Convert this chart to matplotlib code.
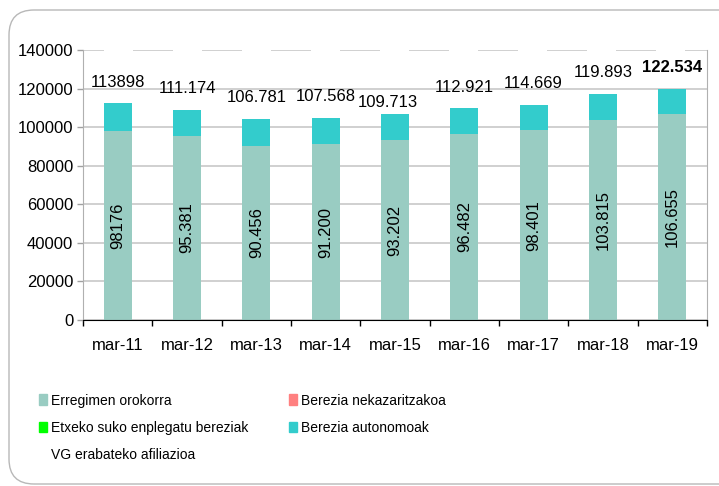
import matplotlib.pyplot as plt
from matplotlib.patches import FancyBboxPatch, Patch

plt.rcParams.update({'font.family': ['Liberation Sans', 'DejaVu Sans'], 'font.size': 12})

years = ['mar-11', 'mar-12', 'mar-13', 'mar-14', 'mar-15', 'mar-16', 'mar-17', 'mar-18', 'mar-19']
erregimen = [98176, 95381, 90456, 91200, 93202, 96482, 98401, 103815, 106655]
nekazaritza = [0, 0, 0, 0, 0, 0, 0, 0, 0]
etxeko = [0, 0, 0, 0, 0, 0, 0, 0, 0]
autonomoak = [14340, 13510, 13770, 13540, 13610, 13440, 13080, 13370, 13120]
base_labels = ['98176', '95.381', '90.456', '91.200', '93.202', '96.482', '98.401', '103.815', '106.655']
total_labels = ['113898', '111.174', '106.781', '107.568', '109.713', '112.921', '114.669', '119.893', '122.534']

# label offsets (px) above the bar tops
label_dx = [0, 0, 0, 0, -7, 0, 0, 0, 0]
label_dy = [21, 21, 21, 22, 12, 21, 22, 22, 22]

c_err = '#99CCC2'
c_nek = '#FF8080'
c_etx = '#00FF00'
c_aut = '#33CCCC'

fig = plt.figure(figsize=(7.19, 4.86), dpi=100)
ax = fig.add_axes([83 / 719, 1 - 320 / 486, (707 - 83) / 719, 270 / 486])

x = list(range(len(years)))
w = 0.4
b1 = ax.bar(x, erregimen, w, color=c_err, zorder=3)
bottom = list(erregimen)
ax.bar(x, nekazaritza, w, bottom=bottom, color=c_nek, zorder=3)
bottom = [a + b for a, b in zip(bottom, nekazaritza)]
ax.bar(x, etxeko, w, bottom=bottom, color=c_etx, zorder=3)
bottom = [a + b for a, b in zip(bottom, etxeko)]
ax.bar(x, autonomoak, w, bottom=bottom, color=c_aut, zorder=3)
tops = [a + b for a, b in zip(bottom, autonomoak)]

ax.bar_label(b1, labels=base_labels, label_type='center', rotation=90, fontsize=12)

for i, t in enumerate(total_labels):
    ax.annotate(t, xy=(i, tops[i]), xytext=(label_dx[i] * 0.72, label_dy[i] * 0.72),
                textcoords='offset points', ha='center', va='center', fontsize=12,
                fontweight='bold' if i == len(total_labels) - 1 else 'normal', zorder=5)

ax.set_xlim(-0.5, len(years) - 0.5)
ax.set_ylim(0, 140000)
ax.set_yticks(range(0, 140001, 20000))
ax.set_xticks(x)
ax.set_xticklabels(years)
ax.set_xticks([i - 0.5 for i in range(len(years) + 1)], minor=True)
ax.tick_params(axis='x', which='major', length=0, pad=13)
ax.tick_params(axis='x', which='minor', length=4, width=1, color='black', direction='out')
ax.tick_params(axis='y', length=4, width=1, color='#A0A0A0', pad=3)

ax.grid(axis='y', color='#C8C8C8', linewidth=1.2, zorder=0)
top_grid = ax.get_ygridlines()[-1]
top_grid.set_linestyle((11.4, (24, 17.4)))

for s in ['left', 'right']:
    ax.spines[s].set_color('#B0B0B0')
ax.spines['top'].set_visible(False)
ax.spines['bottom'].set_color('black')
ax.spines['bottom'].set_zorder(4)

handles = [Patch(color=c_err), Patch(color=c_etx), Patch(color='none'),
           Patch(color=c_nek), Patch(color=c_aut)]
labels = ['Erregimen orokorra', 'Etxeko suko enplegatu bereziak', 'VG erabateko afiliazioa',
          'Berezia nekazaritzakoa', 'Berezia autonomoak']
fig.legend(handles, labels, ncol=2, loc='upper left', bbox_to_anchor=(39 / 719, 1 - 393.5 / 486),
           frameon=False, borderpad=0, borderaxespad=0, handlelength=0.58, handleheight=0.8,
           handletextpad=0.3, labelspacing=0.97, columnspacing=2.9,
           prop={'size': 10})

fig.add_artist(FancyBboxPatch((9, 2), 760, 474, boxstyle='round,pad=0,rounding_size=25',
                              transform=None, facecolor='none', edgecolor='#B8B8B8', linewidth=1))

fig.savefig('out.png', dpi=100)
